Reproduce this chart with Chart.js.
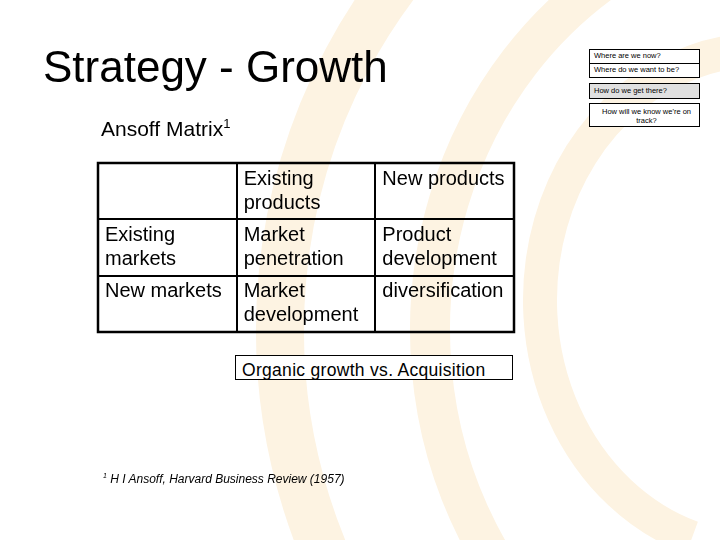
<!DOCTYPE html>
<html><head><meta charset="utf-8">
<script src="https://cdn.jsdelivr.net/npm/chart.js@4/dist/chart.umd.min.js"></script>
<style>
body{margin:0;width:720px;height:540px;position:relative;overflow:hidden;background:#fff;font-family:"Liberation Sans",Arial,sans-serif}
#wrap{position:absolute;left:0;top:0;width:720px;height:540px}
.t{position:absolute;color:#000;white-space:nowrap}
.sb{position:absolute;left:589px;width:111px;border:1px solid #000;background:#fff;font-size:7.5px;padding-left:4px;box-sizing:border-box;line-height:11px}
</style></head><body>
<div id="wrap"><canvas id="c" width="720" height="540"></canvas></div>
<div class="t" style="left:43px;top:42px;font-size:44px">Strategy - Growth</div>
<div class="t" style="left:101px;top:116px;font-size:21px">Ansoff Matrix<sup style="font-size:13px">1</sup></div>
<div class="sb" style="top:49px;height:15px">Where are we now?</div>
<div class="sb" style="top:63px;height:15px">Where do we want to be?</div>
<div class="sb" style="top:83px;height:16px;background:#e0e0e0;line-height:14px">How do we get there?</div>
<div class="sb" style="top:103px;height:24px;text-align:center;line-height:9px;padding-top:3px;white-space:normal">How will we know we're on track?</div>
<div class="t" style="left:235px;top:355px;width:278px;height:25px;border:1px solid #000;box-sizing:border-box;background:#fff;font-size:17.5px;padding:4px 0 0 6px;letter-spacing:0.3px">Organic growth vs. Acquisition</div>
<div class="t" style="left:103px;top:472px;font-size:12px;font-style:italic"><sup style="font-size:7px">1</sup> H I Ansoff, Harvard Business Review (1957)</div>
<script>
const colLabels = ["", "Existing\nproducts", "New products"];
const rowLabels = ["", "Existing\nmarkets", "New markets"];
const cellTexts = [
  ["", "Existing\nproducts", "New products"],
  ["Existing\nmarkets", "Market\npenetration", "Product\ndevelopment"],
  ["New markets", "Market\ndevelopment", "diversification"]
];
const bgPlugin = {
  id:'bg',
  beforeDraw(ch){
    const ctx=ch.ctx; ctx.save();
    ctx.fillStyle='#fff'; ctx.fillRect(0,0,720,540);
    ctx.strokeStyle='#fdf3e2'; ctx.lineCap='butt';
    ctx.lineWidth=48; ctx.beginPath(); ctx.ellipse(820,330,540,560,0,Math.PI*0.78,Math.PI*1.45); ctx.stroke();
    ctx.lineWidth=40; ctx.beginPath(); ctx.ellipse(820,330,390,420,0,Math.PI*0.72,Math.PI*1.42); ctx.stroke();
    ctx.lineWidth=34; ctx.beginPath(); ctx.ellipse(760,300,220,250,0,Math.PI*0.6,Math.PI*1.5); ctx.stroke();
    ctx.restore();
  }
};
const cellPlugin = {
  id:'cells',
  afterDraw(ch){
    const ctx=ch.ctx, xs=ch.scales.x, ys=ch.scales.y, a=ch.chartArea;
    ctx.save();
    ctx.strokeStyle='#000'; ctx.lineWidth=2.5; ctx.strokeRect(a.left,a.top,a.right-a.left,a.bottom-a.top);
    ctx.fillStyle='#000'; ctx.font='20px "Liberation Sans", Arial, sans-serif'; ctx.textBaseline='top';
    const cw=(a.right-a.left)/3, rh=(a.bottom-a.top)/3;
    cellTexts.forEach((row,r)=>row.forEach((txt,c)=>{
      const x0=xs.getPixelForValue(c)-cw/2+7, y0=ys.getPixelForValue(r)-rh/2+6;
      txt.split('\n').forEach((ln,i)=>ctx.fillText(ln,x0,y0+i*24));
    }));
    ctx.restore();
  }
};
new Chart(document.getElementById('c'),{
  type:'scatter',
  data:{datasets:[{data:[],pointRadius:0}]},
  options:{responsive:false,animation:false,events:[],
    layout:{padding:{left:98,right:206,top:163,bottom:208}},
    plugins:{legend:{display:false},tooltip:{enabled:false}},
    scales:{
      x:{type:'category',labels:colLabels,offset:true,grid:{offset:true,color:'#000',lineWidth:2,drawTicks:false},border:{display:false},ticks:{display:false}},
      y:{type:'category',labels:rowLabels,offset:true,grid:{offset:true,color:'#000',lineWidth:2,drawTicks:false},border:{display:false},ticks:{display:false}}
    }
  },
  plugins:[bgPlugin,cellPlugin]
});
</script></body></html>
